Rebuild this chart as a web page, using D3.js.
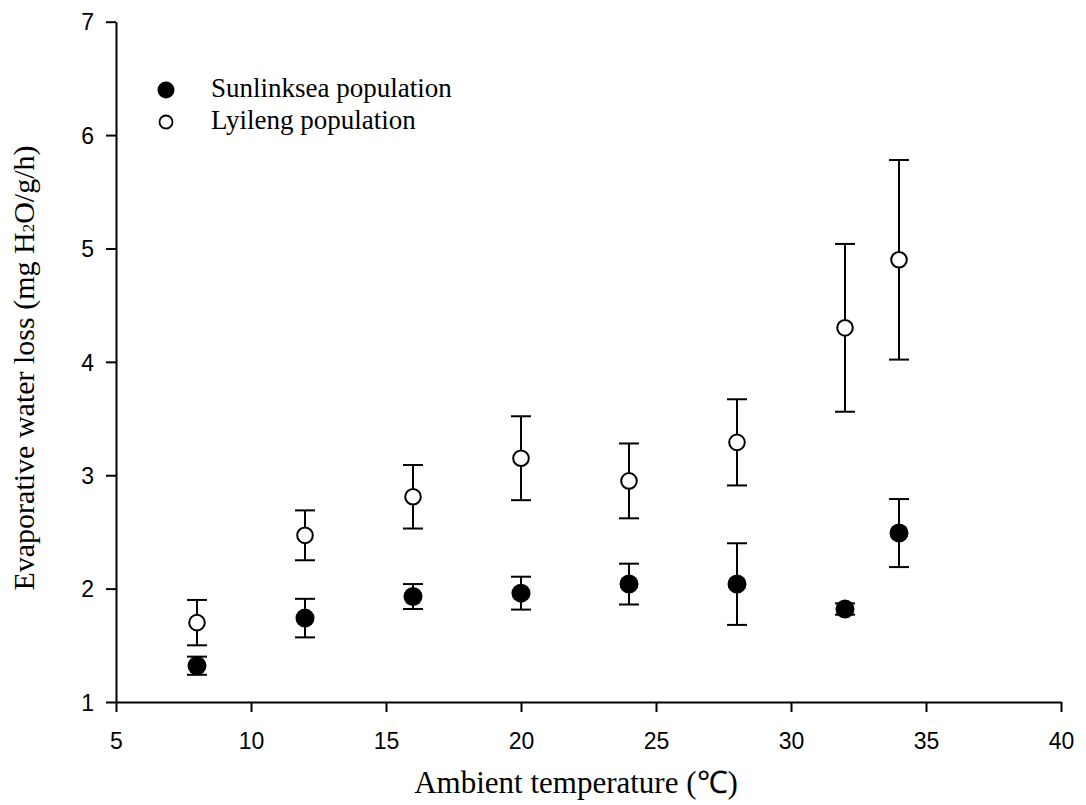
<!DOCTYPE html>
<html>
<head>
<meta charset="utf-8">
<script src="https://cdn.jsdelivr.net/npm/d3@7"></script>
<style>
  html, body { margin: 0; padding: 0; background: #fff; }
  svg { display: block; }
</style>
</head>
<body>
<svg id="chart" width="1086" height="805"></svg>
<script>
// ---- data ----
const temps = [8, 12, 16, 20, 24, 28, 32, 34];
const sunlinkseaMean = [1.32, 1.74, 1.93, 1.96, 2.04, 2.04, 1.82, 2.49];
const sunlinkseaErr  = [0.08, 0.17, 0.11, 0.145, 0.18, 0.36, 0.05, 0.30];
const lyilengMean = [1.70, 2.47, 2.81, 3.15, 2.95, 3.29, 4.30, 4.90];
const lyilengErr  = [0.20, 0.22, 0.28, 0.37, 0.33, 0.38, 0.74, 0.88];
const xTicks = [5, 10, 15, 20, 25, 30, 35, 40];
const yTicks = [1, 2, 3, 4, 5, 6, 7];
const seriesNames = ["Sunlinksea population", "Lyileng population"];

const svg = d3.select("#chart");
const x = d3.scaleLinear().domain([5, 40]).range([116, 1061]);
const y = d3.scaleLinear().domain([1, 7]).range([702, 21.7]);

// axes
const xAxis = svg.append("g").attr("transform", `translate(0,${y(1)})`)
  .call(d3.axisBottom(x).tickValues(xTicks).tickFormat(d3.format("d")).tickSize(10).tickSizeOuter(0));
xAxis.selectAll("text").attr("y", 47).attr("dy", 0)
  .style("font-family", "'Liberation Sans', Arial, sans-serif").style("font-size", "23px").attr("fill", "#000");

const yAxis = svg.append("g").attr("transform", `translate(${x(5)},0)`)
  .call(d3.axisLeft(y).tickValues(yTicks).tickFormat(d3.format("d")).tickSize(10).tickSizeOuter(0));
yAxis.selectAll("text").attr("x", -22).attr("dy", "0.36em")
  .style("font-family", "'Liberation Sans', Arial, sans-serif").style("font-size", "23px").attr("fill", "#000");

svg.selectAll(".domain, .tick line").attr("stroke", "#000").attr("stroke-width", 2);

// error bars + points
function drawSeries(means, errs, filled) {
  const g = svg.append("g");
  const data = temps.map((t, i) => ({t, m: means[i], e: errs[i]}));
  const cap = 10;
  g.selectAll("line.v").data(data).join("line")
    .attr("x1", d => x(d.t)).attr("x2", d => x(d.t))
    .attr("y1", d => y(d.m - d.e)).attr("y2", d => y(d.m + d.e))
    .attr("stroke", "#000").attr("stroke-width", 2);
  g.selectAll("line.top").data(data).join("line")
    .attr("x1", d => x(d.t) - cap).attr("x2", d => x(d.t) + cap)
    .attr("y1", d => y(d.m + d.e)).attr("y2", d => y(d.m + d.e))
    .attr("stroke", "#000").attr("stroke-width", 2);
  g.selectAll("line.bot").data(data).join("line")
    .attr("x1", d => x(d.t) - cap).attr("x2", d => x(d.t) + cap)
    .attr("y1", d => y(d.m - d.e)).attr("y2", d => y(d.m - d.e))
    .attr("stroke", "#000").attr("stroke-width", 2);
  g.selectAll("circle").data(data).join("circle")
    .attr("cx", d => x(d.t)).attr("cy", d => y(d.m))
    .attr("r", filled ? 9.5 : 7.8)
    .attr("fill", filled ? "#000" : "#fff")
    .attr("stroke", "#000").attr("stroke-width", filled ? 0 : 2);
}
drawSeries(lyilengMean, lyilengErr, false);
drawSeries(sunlinkseaMean, sunlinkseaErr, true);

// legend
const legend = svg.append("g");
legend.append("circle").attr("cx", 166).attr("cy", 90).attr("r", 8.5).attr("fill", "#000");
legend.append("circle").attr("cx", 166).attr("cy", 122).attr("r", 6.5).attr("fill", "#fff")
  .attr("stroke", "#000").attr("stroke-width", 1.8);
legend.selectAll("text").data(seriesNames).join("text")
  .attr("x", 211).attr("y", (d, i) => 97 + i * 32)
  .style("font-family", "'Liberation Serif', 'Times New Roman', serif").style("font-size", "27px")
  .attr("fill", "#000").text(d => d);

// axis titles
svg.append("text").attr("x", 576).attr("y", 793).attr("text-anchor", "middle")
  .style("font-family", "'Liberation Serif', 'Times New Roman', serif").style("font-size", "31px")
  .text("Ambient temperature (℃)");

const yt = svg.append("text").attr("transform", "translate(34,368) rotate(-90)").attr("text-anchor", "middle")
  .style("font-family", "'Liberation Serif', 'Times New Roman', serif").style("font-size", "30px");
yt.append("tspan").text("Evaporative water loss (mg H");
yt.append("tspan").attr("font-size", "17px").text("2");
yt.append("tspan").text("O/g/h)");
</script>
</body>
</html>
